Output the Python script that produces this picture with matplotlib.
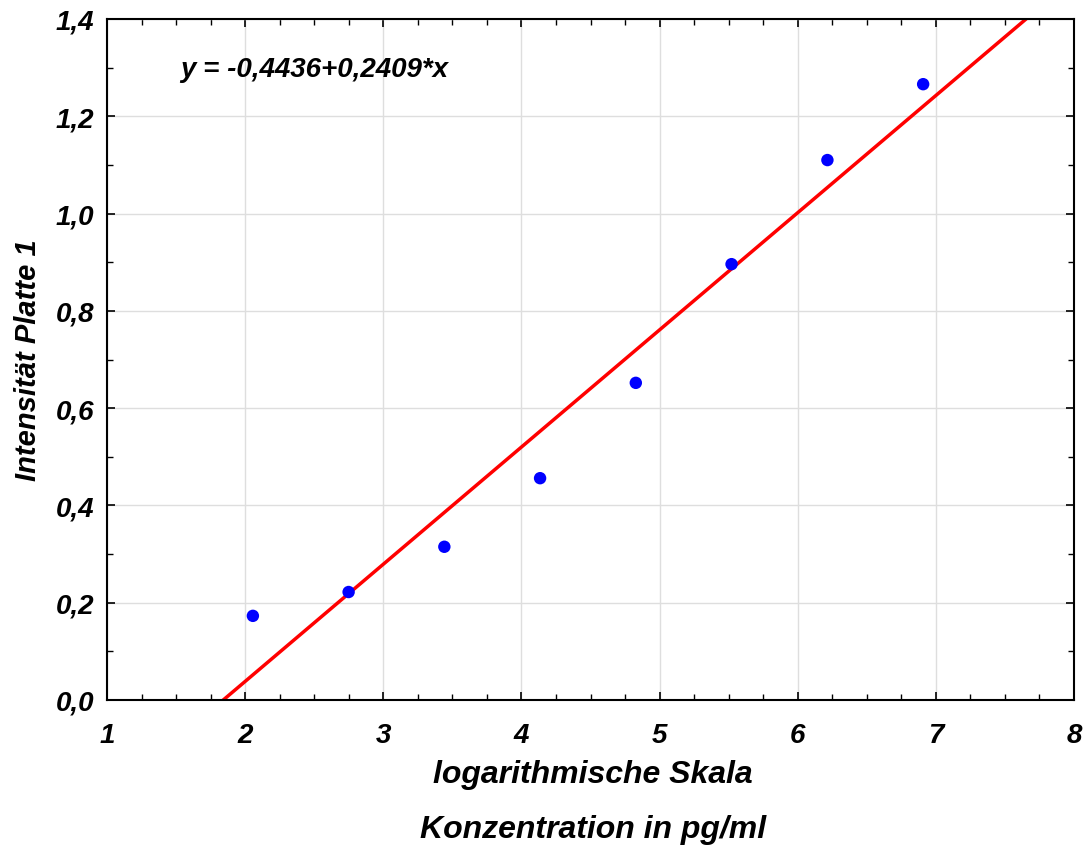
import matplotlib
matplotlib.use("Agg")
import matplotlib.pyplot as plt
import numpy as np
from matplotlib.ticker import MultipleLocator, FuncFormatter

# data
x_vals = [2.056, 2.749, 3.442, 4.135, 4.828, 5.521, 6.215, 6.908]
y_vals = [0.173, 0.222, 0.315, 0.456, 0.652, 0.896, 1.110, 1.266]
intercept = -0.4436
slope = 0.2409
equation = "y = -0,4436+0,2409*x"
xlabel1 = "logarithmische Skala"
xlabel2 = "Konzentration in pg/ml"
ylabel = "Intensität Platte 1"

plt.rcParams['font.family'] = ['Liberation Sans', 'DejaVu Sans']
fig = plt.figure(figsize=(10.9, 8.54), dpi=100)
ax = fig.add_axes([107/1090, 1 - 701/854, (1074-107)/1090, (701-20)/854])

xl = np.array([1.0, 8.0])
ax.plot(xl, intercept + slope * xl, color='#ff0000', lw=2.5, zorder=2)
ax.scatter(x_vals, y_vals, s=80, color='#0000ff', zorder=3, edgecolors='none')

ax.set_xlim(1, 8)
ax.set_ylim(0, 1.4)
ax.xaxis.set_major_locator(MultipleLocator(1))
ax.xaxis.set_minor_locator(MultipleLocator(0.25))
ax.yaxis.set_major_locator(MultipleLocator(0.2))
ax.yaxis.set_minor_locator(MultipleLocator(0.1))
ax.yaxis.set_major_formatter(FuncFormatter(lambda v, p: f"{v:.1f}".replace('.', ',')))
ax.xaxis.set_major_formatter(FuncFormatter(lambda v, p: f"{v:.0f}"))
ax.grid(True, which='major', color='#dedede', lw=1, zorder=0)
ax.set_axisbelow(True)
ax.tick_params(which='both', direction='in', top=True, right=True, color='black')
ax.tick_params(which='major', length=6, width=1.2, labelsize=20)
ax.tick_params(axis='x', which='major', pad=16)
ax.tick_params(axis='y', which='major', pad=9)
ax.tick_params(which='minor', length=4, width=1.0)
for lab in ax.get_xticklabels() + ax.get_yticklabels():
    lab.set_fontweight('bold'); lab.set_fontstyle('italic')
for s in ax.spines.values():
    s.set_linewidth(1.5)

lab_kw = dict(fontsize=23, fontweight='bold', fontstyle='italic', ha='center', va='center')
fig.text(593/1090, 1 - 775/854, xlabel1, **lab_kw)
fig.text(593/1090, 1 - 830/854, xlabel2, **lab_kw)
ax.set_ylabel(ylabel, fontsize=21, fontweight='bold', fontstyle='italic', labelpad=10)
ax.text(180/1090, 1 - 70/854, equation, transform=fig.transFigure, fontsize=20,
        fontweight='bold', fontstyle='italic', ha='left', va='center')

fig.savefig("out.png", dpi=100)
